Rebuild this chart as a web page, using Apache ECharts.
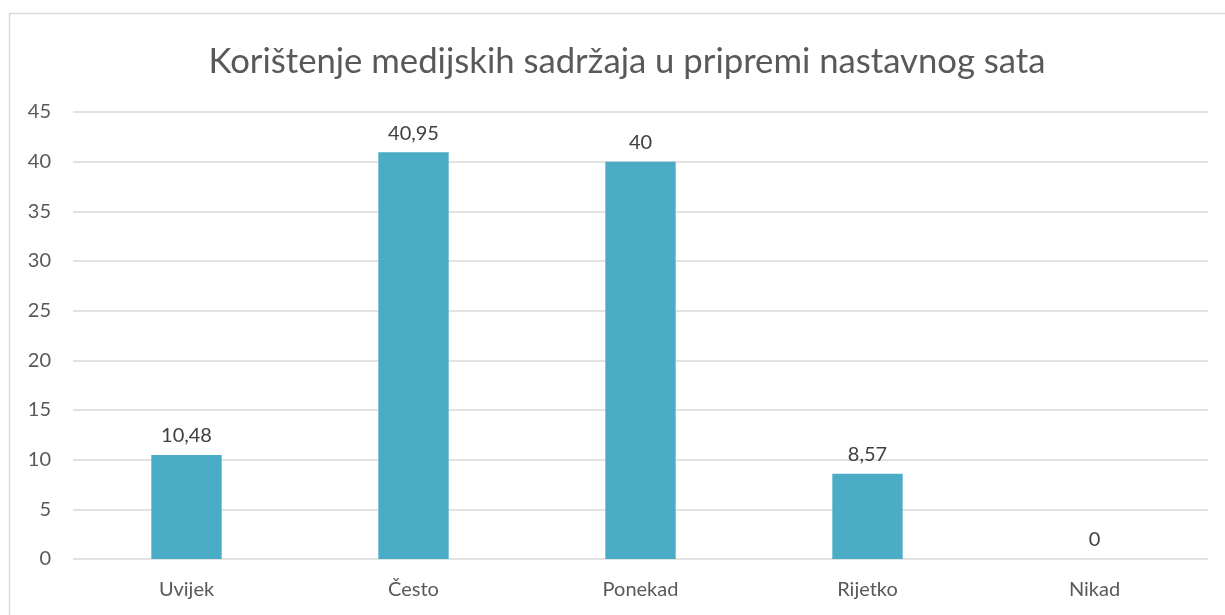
<!DOCTYPE html>
<html>
<head>
<meta charset="utf-8">
<script src="https://cdn.jsdelivr.net/npm/echarts@6/dist/echarts.min.js"></script>
<style>
  html, body { margin: 0; padding: 0; background: #fff; }
  #main { width: 1225px; height: 615px; }
</style>
</head>
<body>
<div id="main"></div>
<script>
const title = 'Korištenje medijskih sadržaja u pripremi nastavnog sata';
const categories = ['Uvijek', 'Često', 'Ponekad', 'Rijetko', 'Nikad'];
const values = [10.48, 40.95, 40, 8.57, 0];

const font = 'Lato, "Open Sans", sans-serif';
const chart = echarts.init(document.getElementById('main'));
chart.setOption({
  animation: false,
  title: {
    text: title,
    left: 622,
    textAlign: 'center',
    top: 39,
    textStyle: { fontFamily: font, fontSize: 34.7, fontWeight: 'normal', color: '#595959' }
  },
  graphic: [{
    type: 'rect',
    shape: { x: 9.5, y: 13.5, width: 1240, height: 640 },
    style: { fill: 'none', stroke: '#d9d9d9', lineWidth: 1.5 },
    silent: true
  }],
  grid: { left: 73, right: 17, top: 112, bottom: 56 },
  xAxis: {
    type: 'category',
    data: categories,
    axisLine: { show: false },
    axisTick: { show: false },
    axisLabel: { fontFamily: font, fontSize: 20, color: '#595959', margin: 21 }
  },
  yAxis: {
    type: 'value',
    min: 0, max: 45, interval: 5,
    axisLine: { show: false },
    axisTick: { show: false },
    axisLabel: { fontFamily: font, fontSize: 20, color: '#595959', margin: 22 },
    splitLine: { lineStyle: { color: '#d9d9d9', width: 1.5 } }
  },
  series: [{
    type: 'bar',
    data: values,
    barWidth: '31%',
    itemStyle: { color: '#4BACC6' },
    label: {
      show: true,
      position: 'top',
      distance: 9,
      fontFamily: font,
      fontSize: 20,
      color: '#404040',
      formatter: p => String(p.value).replace('.', ',')
    }
  }]
});
</script>
</body>
</html>
